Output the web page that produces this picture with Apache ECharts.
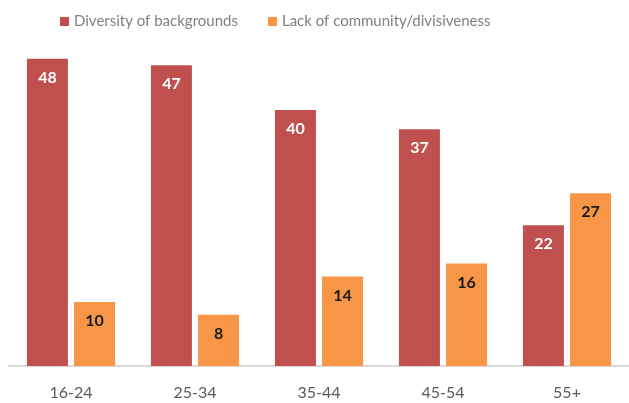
<!DOCTYPE html>
<html><head><meta charset="utf-8">
<script src="https://cdn.jsdelivr.net/npm/echarts@6/dist/echarts.min.js"></script>
<style>html,body{margin:0;padding:0;background:#fff}#c{width:629px;height:403px}</style>
</head><body><div id="c"></div>
<script>
const categories = ['16-24','25-34','35-44','45-54','55+'];
const seriesNames = ['Diversity of backgrounds','Lack of community/divisiveness'];
const diversity = [48, 47, 40, 37, 22];
const lackCommunity = [10, 8, 14, 16, 27];

const chart = echarts.init(document.getElementById('c'));
const font = 'Lato, Open Sans, sans-serif';
chart.setOption({
  animation: false,
  legend: {
    top: 9, left: 55, itemWidth: 9, itemHeight: 9, itemGap: 30,
    icon: 'rect',
    textStyle: {color: '#7f7f7f', fontSize: 15, fontFamily: font, padding: [0, 0, 0, 0]}
  },
  grid: {left: 9, right: -6, top: 46, bottom: 37, containLabel: false},
  xAxis: {
    type: 'category', data: categories,
    axisLine: {lineStyle: {color: '#d9d9d9', width: 2}},
    axisTick: {show: false},
    axisLabel: {color: '#595959', fontSize: 16, fontFamily: font, margin: 19}
  },
  yAxis: {type: 'value', min: 0, max: 50, show: false, splitLine: {show: false}},
  series: [
    {name: seriesNames[0], type: 'bar', data: diversity, barWidth: 41, barGap: '15%',
     itemStyle: {color: '#c0504d'},
     label: {show: true, position: 'insideTop', distance: 11, color: '#fff', fontWeight: 'bold', fontSize: 16, fontFamily: font}},
    {name: seriesNames[1], type: 'bar', data: lackCommunity, barWidth: 41,
     itemStyle: {color: '#f79646'},
     label: {show: true, position: 'insideTop', distance: 11, color: '#1a1a1a', fontWeight: 'bold', fontSize: 16, fontFamily: font}}
  ]
});
</script></body></html>
